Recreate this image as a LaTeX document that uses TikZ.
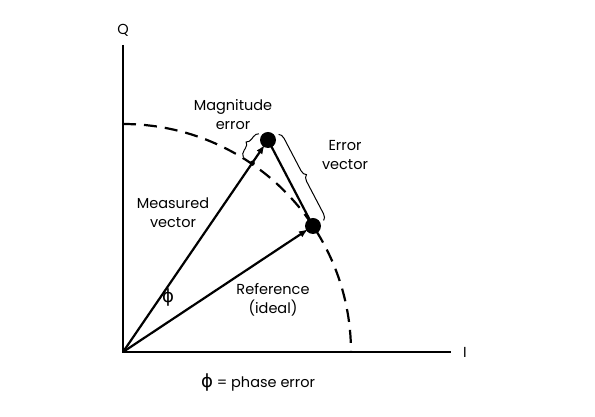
\documentclass[tikz,border=0pt]{standalone}
\usepackage{fontspec}
\setmainfont{Poppins}
\newfontfamily\grk[Scale=1.25]{DejaVu Sans}
\usetikzlibrary{decorations.pathreplacing,arrows.meta,calc}
\begin{document}
\begin{tikzpicture}[x=1pt,y=1pt,
  lbl/.style={font=\fontsize{14.5}{19}\selectfont,align=center,inner sep=0pt},
  vec/.style={line width=2.2pt,-{Latex[length=9pt,width=7pt]}},
  brc/.style={line width=1pt,decorate,decoration={brace,amplitude=6pt}}]
\useasboundingbox (-123,-65) rectangle (472,352);
\coordinate (O) at (0,0);
\coordinate (M) at (145,212);
\coordinate (R) at (190,126);
\coordinate (C) at (55.6:229);
\draw[line width=2.2pt] (0,307) -- (O) -- (328,0);
\node[lbl] (q) at (0,322) {Q};
\node[lbl] (i) at (342,0) {I};
\draw[line width=2.2pt,dash pattern=on 13pt off 8pt] (90:228) arc (90:0:228);
\draw[vec,shorten >=6pt] (O) -- (M);
\draw[vec,shorten >=6pt] (O) -- (R);
\draw[line width=2.2pt] (M) -- (R);
\fill (M) circle (8);
\fill (R) circle (8);
\fill (C) circle (2.5);
\draw[brc] ($(C)+(145.6:11)$) -- ($(M)+(145.6:11)$);
\draw[brc] ($(M)+(27.6:12)$) -- ($(R)+(27.6:12)$);
\node[lbl] (mag) at (110,237) {Magnitude\\error};
\node[lbl] (err) at (222,197) {Error\\vector};
\node[lbl] (meas) at (50,139) {Measured\\vector};
\node[lbl] (ref) at (150,52) {Reference\\(ideal)};
\node[lbl] (ang) at (45,54) {\grk ϕ};
\node[lbl] (key) at (135,-31) {{\grk ϕ} = phase error};
\end{tikzpicture}
\end{document}
